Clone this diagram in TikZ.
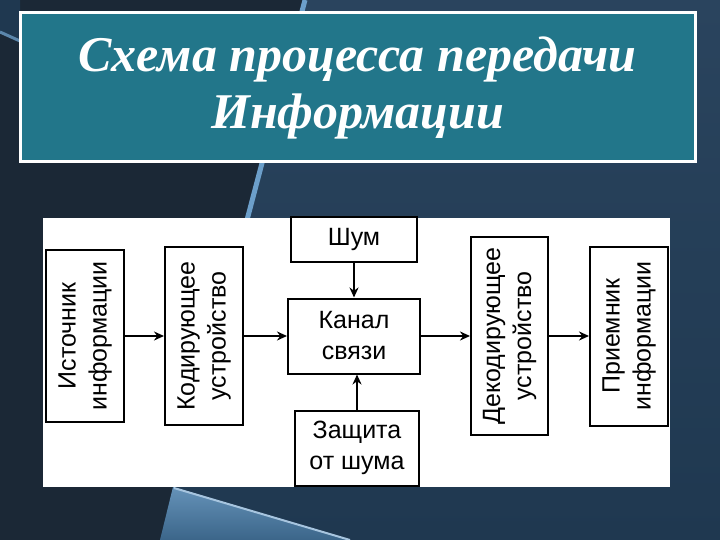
\documentclass[tikz,border=0pt]{standalone}
\usepackage{fontspec}
\setmainfont{Liberation Serif}
\newfontfamily\blockfont{Liberation Sans}
\usepackage{graphicx}
\usetikzlibrary{positioning, arrows.meta}

\definecolor{bgdark}{HTML}{1B2836}
\definecolor{bgblue}{HTML}{2A445E}
\definecolor{bgdeep}{HTML}{1F3850}
\definecolor{streak}{HTML}{6C9FCA}
\definecolor{wedge}{HTML}{4A7FAC}
\definecolor{titleteal}{HTML}{22768A}

\newcommand{\uptext}[1]{\rotatebox{90}{\begin{tabular}{@{}c@{}}#1\end{tabular}}}

\begin{document}
\begin{tikzpicture}[
        x=1pt, y=-1pt,
        block/.style={rectangle, draw=black, line width=2pt, fill=white, inner sep=0pt, align=center, font=\blockfont\fontsize{25}{31}\selectfont},
        arr/.style={-{Stealth[length=10pt, width=9pt]}, line width=2pt, black},
    ]
        \useasboundingbox (0,0) rectangle (720,540);

        % Background and streaks
        \shade[top color=bgblue, bottom color=bgdeep] (0,0) rectangle (720,540);
        \fill[bgdark] (0,0) -- (305,0) -- (173,487) -- (160,540) -- (0,540) -- cycle;
        \fill[bgdeep] (0,0) -- (20,0) -- (20,40) -- (0,31) -- cycle;
        \draw[streak!80!bgdark, line width=3pt] (0,32) -- (20,41);
        \draw[streak, line width=5pt] (305,0) -- (247,220);
        \shade[top color=wedge!85!white, bottom color=wedge!80!black] (173,487) -- (350,540) -- (160,540) -- cycle;
        \draw[streak!60!white, line width=2pt] (174,488) -- (350,540);

        % Title
        \node[draw=white, line width=3pt, fill=titleteal, minimum width=675pt, minimum height=149pt, inner sep=0pt] (titlebox) at (357.5,87.5) {};
        \node[text=white, align=center, font=\bfseries\itshape\fontsize{50}{57}\selectfont] (title) at (titlebox) {Схема процесса передачи\\Информации};

        % White panel
        \node[fill=white, minimum width=627pt, minimum height=268pt, inner sep=0pt] (panel) at (356.5,352.5) {};

        % Channel in the middle, the rest placed around it
        \node[block, minimum width=132pt, minimum height=75pt] (chan) at (354,336) {Канал\\связи};
        \node[block, minimum width=78pt, minimum height=178pt, left=43pt of chan] (enc) {\uptext{Кодирующее\\устройство}};
        \node[block, minimum width=78pt, minimum height=172pt, left=39pt of enc] (src) {\uptext{Источник\\информации}};
        \node[block, minimum width=77pt, minimum height=198pt, right=49pt of chan] (dec) {\uptext{Декодирующее\\устройство}};
        \node[block, minimum width=78pt, minimum height=179pt, right=40pt of dec] (recv) {\uptext{Приемник\\информации}};
        \node[block, minimum width=126pt, minimum height=44pt, above=35pt of chan] (noise) {Шум};
        \node[block, minimum width=124pt, minimum height=75pt, below=35pt of chan, xshift=3pt] (prot) {Защита\\от шума};

        % Arrows along the chain
        \draw[arr] (src) -- (enc);
        \draw[arr] (enc) -- (chan);
        \draw[arr] (chan) -- (dec);
        \draw[arr] (dec) -- (recv);

        % Noise and protection
        \draw[arr] (noise) -- (chan);
        \draw[arr] (prot.north) -- (prot.north |- chan.south);
    \end{tikzpicture}
\end{document}
